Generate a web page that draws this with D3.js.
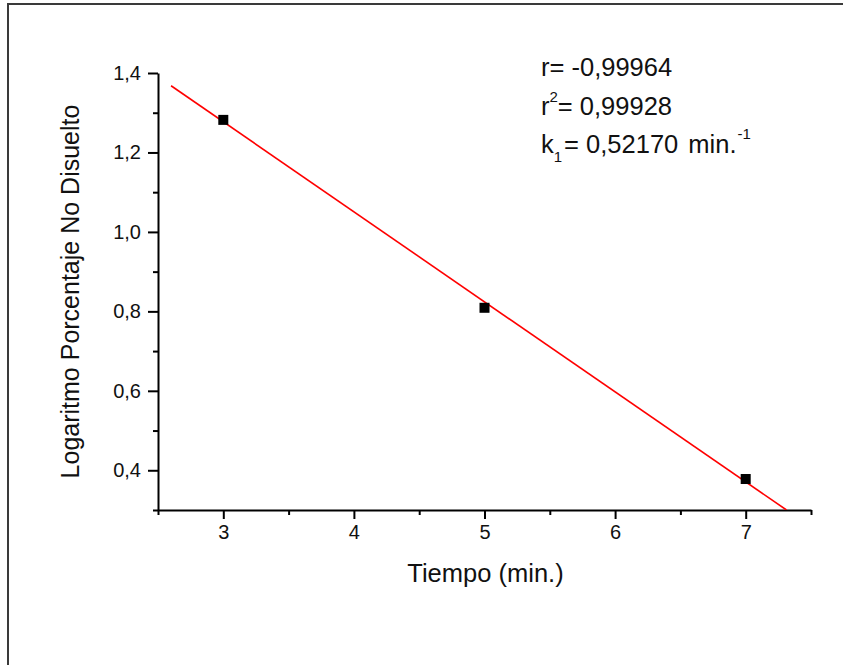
<!DOCTYPE html>
<html>
<head>
<meta charset="utf-8">
<script src="https://cdn.jsdelivr.net/npm/d3@7/dist/d3.min.js"></script>
<style>
  html, body { margin: 0; padding: 0; background: #fff; }
  svg { display: block; font-family: "Liberation Sans", Arial, sans-serif; }
</style>
</head>
<body>
<svg id="chart" width="843" height="665"></svg>
<script>
// ---- data ----
const tiempo = [3, 5, 7];
const logNoDisuelto = [1.282, 0.809, 0.378];
const xDomain = [2.5, 7.5];
const yDomain = [0.3, 1.4];
const xMajorTicks = [3, 4, 5, 6, 7];
const xMinorTicks = [2.5, 3.5, 4.5, 5.5, 6.5, 7.5];
const yMajorTicks = [0.4, 0.6, 0.8, 1.0, 1.2, 1.4];
const yMinorTicks = [0.3, 0.5, 0.7, 0.9, 1.1, 1.3];
const fitSlope = -0.2266;
const fitIntercept = 1.957;
const fitStartX = 2.6;
const xTitle = "Tiempo (min.)";
const yTitle = "Logaritmo Porcentaje No Disuelto";
const rText = "r= -0,99964";
const r2Value = "= 0,99928";
const k1Value = "= 0,52170";
const k1Unit = "min.";

// ---- layout ----
const svg = d3.select("#chart");
const margin = {left: 158, top: 73, right: 843 - 811, bottom: 665 - 510};
const W = 843, H = 665;
const x = d3.scaleLinear().domain(xDomain).range([margin.left, W - margin.right]);
const y = d3.scaleLinear().domain(yDomain).range([H - margin.bottom, margin.top]);
const fmt = d => d3.format(".1f")(d).replace(".", ",");

// outer frame
svg.append("rect").attr("x", 8).attr("y", 4).attr("width", 900).attr("height", 800)
  .attr("fill", "none").attr("stroke", "#3a3a3a").attr("stroke-width", 2);

// axes
svg.append("g").attr("transform", `translate(0,${y(yDomain[0])})`)
  .call(d3.axisBottom(x).tickValues(xMajorTicks).tickFormat(d3.format("d")).tickSize(9).tickSizeOuter(0).tickPadding(6));
svg.append("g").attr("transform", `translate(0,${y(yDomain[0])})`)
  .call(d3.axisBottom(x).tickValues(xMinorTicks).tickFormat("").tickSize(5).tickSizeOuter(0))
  .select(".domain").remove();
svg.append("g").attr("transform", `translate(${x(xDomain[0])},0)`)
  .call(d3.axisLeft(y).tickValues(yMajorTicks).tickFormat(fmt).tickSize(10).tickSizeOuter(0).tickPadding(7));
svg.append("g").attr("transform", `translate(${x(xDomain[0])},0)`)
  .call(d3.axisLeft(y).tickValues(yMinorTicks).tickFormat("").tickSize(5).tickSizeOuter(0))
  .select(".domain").remove();

svg.selectAll(".domain, .tick line").attr("stroke", "#000").attr("stroke-width", 2);
svg.selectAll(".tick text").attr("fill", "#111").style("font-size", "20px")
  .style("font-family", "'Liberation Sans', Arial, sans-serif");

// axis titles
svg.append("text").attr("x", (x(xDomain[0]) + x(xDomain[1])) / 2 + 1).attr("y", 582)
  .attr("text-anchor", "middle").style("font-size", "25.5px").attr("fill", "#111").text(xTitle);
svg.append("text").attr("transform", `translate(79,${(y(yDomain[0]) + y(yDomain[1])) / 2}) rotate(-90)`)
  .attr("text-anchor", "middle").style("font-size", "25px").attr("fill", "#111").text(yTitle);

// fit line, clipped to plot area
svg.append("clipPath").attr("id", "clip").append("rect")
  .attr("x", x(xDomain[0])).attr("y", y(yDomain[1]))
  .attr("width", x(xDomain[1]) - x(xDomain[0])).attr("height", y(yDomain[0]) - y(yDomain[1]));
const fitEndX = (yDomain[0] - fitIntercept) / fitSlope;
const fitPts = [fitStartX, fitEndX].map(t => [t, fitIntercept + fitSlope * t]);
svg.append("path").attr("clip-path", "url(#clip)")
  .attr("d", d3.line().x(d => x(d[0])).y(d => y(d[1]))(fitPts))
  .attr("fill", "none").attr("stroke", "#ff0000").attr("stroke-width", 1.6);

// points
const sq = 10;
svg.selectAll("rect.pt").data(tiempo.map((t, i) => [t, logNoDisuelto[i]])).enter()
  .append("rect").attr("class", "pt")
  .attr("x", d => x(d[0]) - sq / 2).attr("y", d => y(d[1]) - sq / 2)
  .attr("width", sq).attr("height", sq).attr("fill", "#000");

// annotations
const ann = svg.append("g").style("font-size", "25.5px").attr("fill", "#111");
ann.append("text").attr("x", 541).attr("y", 76).text(rText);
const t2 = ann.append("text").attr("x", 541).attr("y", 115);
t2.append("tspan").text("r");
t2.append("tspan").attr("dy", -13).style("font-size", "15px").text("2");
t2.append("tspan").attr("dy", 13).text(r2Value);
const t3 = ann.append("text").attr("x", 541).attr("y", 153);
t3.append("tspan").text("k");
t3.append("tspan").attr("dy", 9).style("font-size", "15px").text("1");
t3.append("tspan").attr("dy", -9).attr("dx", 2).text(k1Value);
t3.append("tspan").attr("dx", 3).text(" " + k1Unit);
t3.append("tspan").attr("dy", -14).attr("dx", 1).style("font-size", "15px").text("-1");
</script>
</body>
</html>
